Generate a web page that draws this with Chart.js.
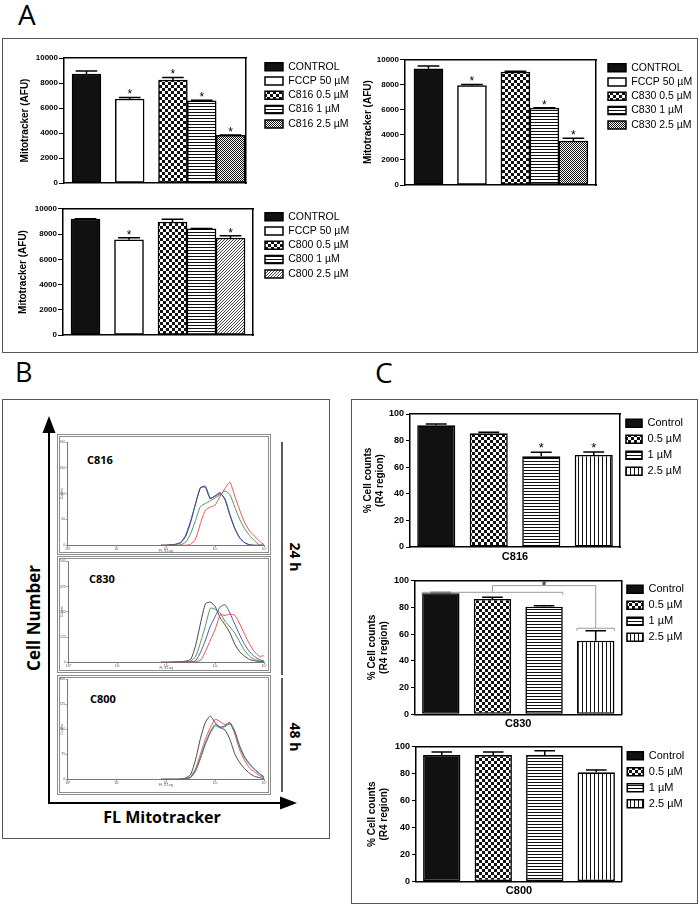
<!DOCTYPE html>
<html>
<head>
<meta charset="utf-8">
<script src="https://cdn.jsdelivr.net/npm/chart.js@4.4.1/dist/chart.umd.min.js"></script>
<style>
  body { margin: 0; background: #fff; }
  #page { position: relative; width: 700px; height: 909px; overflow: hidden; font-family: 'Open Sans', sans-serif; }
  .box { position: absolute; box-sizing: border-box; border: 1.5px solid #555; }
  .frame { position: absolute; box-sizing: border-box; border: 3px double #8c8c8c; }
  .lbl { position: absolute; line-height: 1; white-space: nowrap; color: #000; }
  .rot { transform: translate(-50%, -50%) rotate(-90deg); font-weight: bold; }
  .rot90 { transform: translate(-50%, -50%) rotate(90deg); font-weight: bold; }
  .mid { transform: translate(-50%, -50%); font-weight: bold; }
  canvas { position: absolute; }
</style>
</head>
<body>
<div id="page">
  <div class="lbl" style="left:18px; top:0px; font-size:28px;">A</div>
  <div class="lbl" style="left:15px; top:358px; font-size:27px;">B</div>
  <div class="lbl" style="left:375px; top:358px; font-size:28px;">C</div>

  <div class="box" style="left:2px; top:38px; width:696px; height:315px;"></div>
  <div class="box" style="left:2px; top:399px; width:328px; height:440px;"></div>
  <div class="box" style="left:351px; top:399px; width:347px; height:505px;"></div>

  <div class="frame" style="left:57px; top:434px; width:214px; height:121px;"></div>
  <div class="frame" style="left:57px; top:556px; width:214px; height:117px;"></div>
  <div class="frame" style="left:57px; top:675px; width:214px; height:120px;"></div>

  <svg style="position:absolute; left:0; top:0;" width="700" height="909">
    <line x1="49" y1="803" x2="49" y2="430" stroke="#000" stroke-width="2"/>
    <polygon points="49,416 42.5,433 55.5,433" fill="#000"/>
    <line x1="48" y1="803" x2="284" y2="803" stroke="#000" stroke-width="2"/>
    <polygon points="297,803 280,796.5 280,809.5" fill="#000"/>
    <line x1="282" y1="442" x2="282" y2="675" stroke="#000" stroke-width="1.3"/>
    <line x1="282" y1="678" x2="282" y2="792" stroke="#000" stroke-width="1.3"/>
  </svg>

  <div class="lbl rot" style="left:33px; top:618px; font-size:17px;">Cell Number</div>
  <div class="lbl mid" style="left:162px; top:817px; font-size:16px;">FL Mitotracker</div>
  <div class="lbl rot90" style="left:295px; top:557px; font-size:14px;">24 h</div>
  <div class="lbl rot90" style="left:295px; top:737px; font-size:14px;">48 h</div>
  <div class="lbl" style="left:87px; top:453.5px; font-size:11px; font-weight:bold;">C816</div>
  <div class="lbl" style="left:89px; top:573px; font-size:11px; font-weight:bold;">C830</div>
  <div class="lbl" style="left:90px; top:693px; font-size:11px; font-weight:bold;">C800</div>
</div>

<script>
// ---- Panel A: Mitotracker (AFU) ----
const aGroups = [1, 1, 3]; // bars per cluster: control | FCCP | compound doses

const aLabelsC816 = ['CONTROL', 'FCCP 50 µM', 'C816 0.5 µM', 'C816 1 µM', 'C816 2.5 µM'];
const aValuesC816 = [8720, 6720, 8240, 6580, 3810];
const aSemC816 = [240, 130, 210, 40, 40];
const aSigC816 = [false, true, true, true, true];

const aLabelsC830 = ['CONTROL', 'FCCP 50 µM', 'C830 0.5 µM', 'C830 1 µM', 'C830 2.5 µM'];
const aValuesC830 = [9250, 7900, 8990, 6125, 3500];
const aSemC830 = [220, 100, 60, 25, 215];
const aSigC830 = [false, true, false, true, true];

const aLabelsC800 = ['CONTROL', 'FCCP 50 µM', 'C800 0.5 µM', 'C800 1 µM', 'C800 2.5 µM'];
const aValuesC800 = [9206, 7560, 8968, 8436, 7700];
const aSemC800 = [20, 160, 210, 25, 180];
const aSigC800 = [false, true, false, false, true];

// ---- Panel B: flow cytometry histograms (FL4 log bins vs counts) ----
const flBins = [79, 100, 126, 158, 200, 251, 316, 398, 501, 631, 794, 1000, 1259, 1585, 1995, 2512, 3162, 3981, 5012, 6310, 7943, 10000];
const flDecades = [1, 10, 100, 1000, 10000];

const histC816Black = [0, 0, 1, 2, 5, 17, 44, 80, 112, 112, 90, 96, 102, 88, 58, 32, 14, 5, 1, 0, 0, 0];
const histC816Blue = [0, 0, 1, 2, 6, 20, 47, 80, 110, 115, 92, 95, 100, 90, 60, 33, 15, 5, 1, 0, 0, 0];
const histC816Green = [0, 0, 0, 0, 1, 6, 22, 48, 75, 81, 86, 92, 98, 105, 98, 74, 50, 32, 19, 9, 1, 0];
const histC816Red = [0, 0, 0, 0, 0, 0, 2, 12, 42, 68, 74, 78, 95, 110, 122, 95, 68, 44, 28, 18, 8, 1];

const histC830Black = [0, 0, 1, 2, 3, 6, 15, 85, 195, 290, 298, 275, 220, 185, 145, 88, 52, 30, 14, 8, 4, 3];
const histC830Green = [0, 0, 0, 0, 1, 3, 6, 30, 100, 182, 268, 262, 244, 202, 175, 143, 100, 58, 30, 14, 8, 5];
const histC830Blue = [0, 0, 0, 0, 0, 1, 2, 8, 50, 110, 180, 228, 275, 285, 243, 188, 135, 88, 52, 28, 14, 5];
const histC830Red = [0, 0, 0, 0, 0, 0, 1, 3, 10, 55, 110, 165, 235, 232, 238, 232, 190, 138, 90, 52, 30, 33];

const histC800Black = [0, 0, 0, 0, 1, 4, 14, 58, 122, 170, 190, 170, 155, 148, 120, 76, 50, 32, 18, 9, 5, 2];
const histC800Red = [0, 0, 0, 0, 0, 2, 8, 32, 75, 120, 155, 180, 173, 164, 170, 135, 88, 56, 34, 22, 11, 4];
const histC800Blue = [0, 0, 0, 0, 0, 1, 6, 26, 65, 108, 142, 165, 157, 160, 170, 145, 100, 68, 47, 31, 18, 7];
const histC800Green = [0, 0, 0, 0, 0, 1, 5, 24, 62, 104, 138, 160, 155, 158, 166, 140, 96, 64, 44, 29, 16, 6];

// ---- Panel C: % cell counts (R4 region) ----
const cLabels = ['Control', '0.5 µM', '1 µM', '2.5 µM'];
const cValuesC816 = [91.5, 85.5, 68.2, 69.2];
const cSemC816 = [1.0, 0.7, 3.0, 2.2];
const cSigC816 = [false, false, true, true];
const cValuesC830 = [90.6, 86.3, 80.5, 55.1];
const cSemC830 = [0.6, 1.3, 0.8, 7.5];
const cValuesC800 = [93.8, 93.8, 93.8, 81.0];
const cSemC800 = [2.3, 2.3, 3.2, 1.7];
// C830: control..1 µM vs 2.5 µM bracket (levels in % units)
const cBracketC830 = { groupA: [0, 2], groupB: 3, levelA: 91.3, levelTop: 96.3, levelB: 64.4 };

Chart.defaults.font.family = "'Liberation Sans', Arial, sans-serif";
Chart.defaults.color = '#000';

const sup = ['⁰', '¹', '²', '³', '⁴'];

function pattern(kind) {
  if (kind === 'solid') return '#111';
  if (kind === 'open') return '#fff';
  const tiles = {
    checker: [6, 6, g => { g.fillRect(0, 0, 3, 3); g.fillRect(3, 3, 3, 3); }],
    fine: [2, 2, g => { g.fillRect(0, 0, 1, 1); g.fillRect(1, 1, 1, 1); }],
    hlines: [4, 3, g => g.fillRect(0, 0, 4, 1)],
    vlines: [4, 4, g => g.fillRect(0, 0, 1, 4)],
    diag: [3, 3, g => { g.fillRect(2, 0, 1, 1); g.fillRect(1, 1, 1, 1); g.fillRect(0, 2, 1, 1); }]
  };
  const [w, h, draw] = tiles[kind];
  const c = document.createElement('canvas');
  c.width = w; c.height = h;
  const g = c.getContext('2d');
  g.fillStyle = '#fff'; g.fillRect(0, 0, w, h);
  g.fillStyle = kind === 'diag' ? '#444' : '#111';
  draw(g);
  return g.createPattern(c, 'repeat');
}

function addCanvas(left, top, width, height) {
  const cv = document.createElement('canvas');
  cv.width = width; cv.height = height;
  cv.style.left = left + 'px'; cv.style.top = top + 'px';
  document.getElementById('page').appendChild(cv);
  return cv;
}

// works out canvas box + axis sizes so the plot area lands where it should
function place(o) {
  const left = Math.round(o.titleX - 10);
  const x2H = Math.max(0, o.lp + o.itemH / 2 - (o.row1 - o.t));
  const top = Math.floor(o.t - x2H - 8);
  const legendLeft = o.legendX - o.lp;
  const width = Math.round(o.right - left);
  const height = Math.round(o.bottom - top);
  return {
    canvas: addCanvas(left, top, width, height),
    padTop: o.t - x2H - top, x2H,
    yW: o.l - left, yRW: Math.max(0.3, legendLeft - o.r),
    LW: left + width - legendLeft, xH: top + height - o.b
  };
}

function clusterPositions(groups, gap) {
  const xs = [];
  let x = 0;
  groups.forEach(n => { for (let k = 0; k < n; k++) xs.push(x++); x += gap; });
  return xs;
}

// keep legend a fixed width so the plot area doesn't move with text metrics
const fixedLegend = {
  id: 'fixedLegend',
  afterInit(chart, args, opts) {
    const lg = chart.legend;
    if (!lg || !opts.width) return;
    const fit = lg.fit.bind(lg);
    lg.fit = function () { fit(); this.width = opts.width; };
  }
};

const errorBars = {
  id: 'errorBars',
  afterDatasetsDraw(chart, args, opts) {
    if (!opts.sem) return;
    const ctx = chart.ctx;
    const y = chart.scales.y;
    ctx.save();
    ctx.strokeStyle = '#000';
    ctx.lineWidth = 1.5;
    chart.data.datasets.forEach((ds, i) => {
      chart.getDatasetMeta(i).data.forEach((bar, j) => {
        const d = ds.data[j];
        const val = d !== null && typeof d === 'object' ? d.y : d;
        if (val == null) return;
        const top = y.getPixelForValue(val + opts.sem[i]);
        const half = bar.width * opts.capRatio / 2;
        ctx.beginPath();
        ctx.moveTo(bar.x, bar.y); ctx.lineTo(bar.x, top);
        ctx.moveTo(bar.x - half, top); ctx.lineTo(bar.x + half, top);
        ctx.stroke();
        if (opts.stars && opts.stars[i]) {
          ctx.fillStyle = '#000';
          ctx.font = opts.starSize + "px 'Liberation Sans'";
          ctx.textAlign = 'center';
          ctx.textBaseline = 'alphabetic';
          ctx.fillText('*', bar.x, top - opts.starGap + 0.58 * opts.starSize);
        }
      });
    });
    ctx.restore();
  }
};

const sigBracket = {
  id: 'sigBracket',
  afterDatasetsDraw(chart, args, o) {
    if (!o.groupA) return;
    const ctx = chart.ctx;
    const y = chart.scales.y;
    const bars = chart.data.datasets.map((ds, i) => chart.getDatasetMeta(i).data[ds.data.findIndex(v => v != null)]);
    const l = bars[o.groupA[0]], r = bars[o.groupA[1]], b = bars[o.groupB];
    const x1 = l.x - l.width / 2, x2 = r.x + r.width / 2;
    const bx1 = b.x - b.width / 2, bx2 = b.x + b.width / 2;
    const yA = y.getPixelForValue(o.levelA), yT = y.getPixelForValue(o.levelTop), yB = y.getPixelForValue(o.levelB);
    const mid = (x1 + x2) / 2;
    ctx.save();
    ctx.strokeStyle = '#9a9a9a';
    ctx.lineWidth = 1;
    ctx.beginPath();
    ctx.moveTo(x1, yA + 2.5); ctx.lineTo(x1, yA); ctx.lineTo(x2, yA); ctx.lineTo(x2, yA + 2.5);
    ctx.moveTo(mid, yA); ctx.lineTo(mid, yT); ctx.lineTo(b.x, yT); ctx.lineTo(b.x, yB);
    ctx.moveTo(bx1, yB + 2.5); ctx.lineTo(bx1, yB); ctx.lineTo(bx2, yB); ctx.lineTo(bx2, yB + 2.5);
    ctx.stroke();
    ctx.fillStyle = '#000';
    ctx.font = "13px 'Liberation Sans'";
    ctx.textAlign = 'center';
    ctx.fillText('*', (mid + b.x) / 2, yT - 3 + 0.58 * 13);
    ctx.restore();
  }
};

Chart.register(fixedLegend, errorBars, sigBracket);

function frameAxes(g) {
  return {
    xTop: { type: 'linear', position: 'top', ticks: { display: false }, grid: { display: false },
            border: { color: '#000', width: 1.5 }, afterFit: s => { s.height = g.x2H; } },
    yRight: { type: 'linear', position: 'right', ticks: { display: false }, grid: { display: false },
              border: { color: '#000', width: 1.5 }, afterFit: s => { s.width = g.yRW; } }
  };
}

function mitoChart(geo, labels, values, sem, sig, fills, xRange) {
  const g = place(Object.assign({ lp: 3.8, itemH: 10.5 }, geo));
  const xs = clusterPositions(aGroups, 0.5);
  new Chart(g.canvas, {
    type: 'bar',
    data: {
      datasets: labels.map((lab, i) => ({
        label: lab,
        data: [{ x: xs[i], y: values[i] }],
        backgroundColor: pattern(fills[i]),
        borderColor: '#000', borderWidth: 1.5, borderSkipped: false,
        grouped: false, barPercentage: 1, categoryPercentage: 1
      }))
    },
    options: {
      responsive: false, animation: false, events: [],
      layout: { padding: { top: g.padTop, left: 0, right: 0, bottom: 0 } },
      scales: Object.assign({
        x: {
          type: 'linear', min: xRange[0], max: xRange[1], offset: false,
          afterBuildTicks: s => { s.ticks = xs.map(v => ({ value: v })); },
          ticks: { display: false }, grid: { display: false },
          border: { color: '#000', width: 1.5 },
          afterFit: s => { s.height = g.xH; }
        },
        y: {
          min: 0, max: 10000,
          ticks: { stepSize: 2000, color: '#000', padding: 1, font: { size: 8, weight: 'bold' }, callback: v => String(v) },
          grid: { drawOnChartArea: false, tickLength: 5, color: '#000', lineWidth: 1 },
          border: { color: '#000', width: 1.5 },
          title: { display: true, text: 'Mitotracker (AFU)', color: '#000', font: { size: 10, weight: 'bold' }, padding: { top: 4, bottom: 4 } },
          afterFit: s => { s.width = g.yW; }
        }
      }, frameAxes(g)),
      plugins: {
        legend: { position: 'right', align: 'start',
                  labels: { boxWidth: 18, boxHeight: 8, padding: 3.8, color: '#000', font: { size: 10.5 } } },
        tooltip: { enabled: false },
        fixedLegend: { width: g.LW },
        errorBars: { sem, stars: sig, capRatio: 0.75, starSize: 12, starGap: 6 }
      }
    }
  });
}

function countChart(geo, name, values, sem, sig, bracket) {
  const g = place(Object.assign({ lp: 5, itemH: 11 }, geo));
  const fills = ['solid', 'checker', 'hlines', 'vlines'];
  new Chart(g.canvas, {
    type: 'bar',
    data: {
      labels: cLabels,
      datasets: cLabels.map((lab, i) => ({
        label: lab,
        data: cLabels.map((_, j) => (j === i ? values[i] : null)),
        backgroundColor: pattern(fills[i]),
        borderColor: '#000', borderWidth: 1.6, borderSkipped: false,
        skipNull: true, barPercentage: 0.725, categoryPercentage: 1
      }))
    },
    options: {
      responsive: false, animation: false, events: [],
      layout: { padding: { top: g.padTop, left: 0, right: 0, bottom: 0 } },
      scales: Object.assign({
        x: {
          ticks: { display: false }, grid: { display: false },
          border: { color: '#000', width: 1.5 },
          title: { display: true, text: name, color: '#000', font: { size: 11, weight: 'bold' }, padding: { top: 4, bottom: 4 } },
          afterFit: s => { s.height = g.xH; }
        },
        y: {
          min: 0, max: 100,
          ticks: { stepSize: 20, color: '#000', padding: 2, font: { size: 9, weight: 'bold' } },
          grid: { drawOnChartArea: false, tickLength: 4, color: '#000', lineWidth: 1 },
          border: { color: '#000', width: 1.5 },
          title: { display: true, text: ['% Cell counts', '(R4 region)'], color: '#000', font: { size: 10, weight: 'bold' }, padding: { top: 4, bottom: 4 } },
          afterFit: s => { s.width = g.yW; }
        }
      }, frameAxes(g)),
      plugins: {
        legend: { position: 'right', align: 'start',
                  labels: { boxWidth: 16, boxHeight: 8, padding: 5, color: '#000', font: { size: 11 } } },
        tooltip: { enabled: false },
        fixedLegend: { width: g.LW },
        errorBars: { sem, stars: sig, capRatio: 0.55, starSize: 13, starGap: 8 },
        sigBracket: bracket || {}
      }
    }
  });
}

function histChart(box, curves, yMax, yStep) {
  const cv = addCanvas(box.left, box.top, box.width, box.height);
  const font = { size: 3.5 };
  new Chart(cv, {
    type: 'line',
    data: {
      datasets: curves.map(c => ({
        data: flBins.map((x, i) => ({ x, y: c[0][i] })),
        borderColor: c[1], borderWidth: 0.9, pointRadius: 0, tension: 0.2, fill: false
      }))
    },
    options: {
      responsive: false, animation: false, events: [],
      layout: { padding: { top: box.padTop, right: 2, left: 0, bottom: 0 } },
      plugins: { legend: { display: false }, tooltip: { enabled: false } },
      scales: {
        x: {
          type: 'logarithmic', min: 1, max: 10000,
          afterBuildTicks: s => { s.ticks = flDecades.map(v => ({ value: v })); },
          ticks: { callback: v => '10' + sup[Math.round(Math.log10(v))], font, color: '#555', padding: 0, maxRotation: 0, autoSkip: false },
          grid: { drawOnChartArea: false, tickLength: 2, color: '#555', lineWidth: 0.6 },
          border: { color: '#555', width: 0.8 },
          title: { display: true, text: 'FL 4 Log', font, color: '#555', padding: 0 },
          afterFit: s => { s.height = box.xH; }
        },
        y: {
          min: 0, max: yMax,
          ticks: { stepSize: yStep, font, color: '#555', padding: 0.5 },
          grid: { drawOnChartArea: false, tickLength: 2, color: '#555', lineWidth: 0.6 },
          border: { color: '#555', width: 0.8 },
          title: { display: true, text: 'Counts', font, color: '#555', padding: 0 },
          afterFit: s => { s.width = box.yW; }
        }
      }
    }
  });
}

// Panel A
mitoChart({ l: 64, r: 246, t: 58, b: 183, legendX: 265, row1: 66.7, titleX: 25, bottom: 189, right: 357 },
  aLabelsC816, aValuesC816, aSemC816, aSigC816, ['solid', 'open', 'checker', 'hlines', 'fine'], [-0.78, 5.535]);
mitoChart({ l: 405, r: 596, t: 59.3, b: 185, legendX: 608, row1: 67.7, titleX: 368, bottom: 191, right: 700 },
  aLabelsC830, aValuesC830, aSemC830, aSigC830, ['solid', 'open', 'checker', 'hlines', 'fine'], [-0.81, 5.78]);
mitoChart({ l: 63, r: 253, t: 209, b: 335, legendX: 265, row1: 216.7, titleX: 23.3, bottom: 341, right: 357 },
  aLabelsC800, aValuesC800, aSemC800, aSigC800, ['solid', 'open', 'checker', 'hlines', 'diag'], [-0.776, 5.776]);

// Panel B
histChart({ left: 60, top: 439, width: 207, height: 114, padTop: 3, yW: 7.7, xH: 7.7 },
  [[histC816Red, '#e8404a'], [histC816Green, '#3c8c46'], [histC816Blue, '#3a4aa8'], [histC816Black, '#333']], 200, 50);
histChart({ left: 60, top: 558, width: 207, height: 112, padTop: 3.3, yW: 8.3, xH: 7.7 },
  [[histC830Red, '#e8404a'], [histC830Green, '#3c8c46'], [histC830Blue, '#3a4aa8'], [histC830Black, '#333']], 500, 125);
histChart({ left: 60, top: 676, width: 207, height: 111, padTop: 3.3, yW: 7.7, xH: 7.7 },
  [[histC800Green, '#3c8c46'], [histC800Blue, '#3a4aa8'], [histC800Red, '#e8404a'], [histC800Black, '#333']], 300, 75);

// Panel C
countChart({ l: 410, r: 620, t: 414, b: 547, legendX: 626, row1: 423.3, titleX: 368.3, bottom: 567.6, right: 688 },
  'C816', cValuesC816, cSemC816, cSigC816);
countChart({ l: 415, r: 621.5, t: 580.7, b: 714.3, legendX: 627, row1: 589.3, titleX: 371.7, bottom: 734.6, right: 689 },
  'C830', cValuesC830, cSemC830, null, cBracketC830);
countChart({ l: 416, r: 622, t: 746.7, b: 881.7, legendX: 627.3, row1: 755.7, titleX: 371.7, bottom: 902.3, right: 689 },
  'C800', cValuesC800, cSemC800, null);
</script>
</body>
</html>
